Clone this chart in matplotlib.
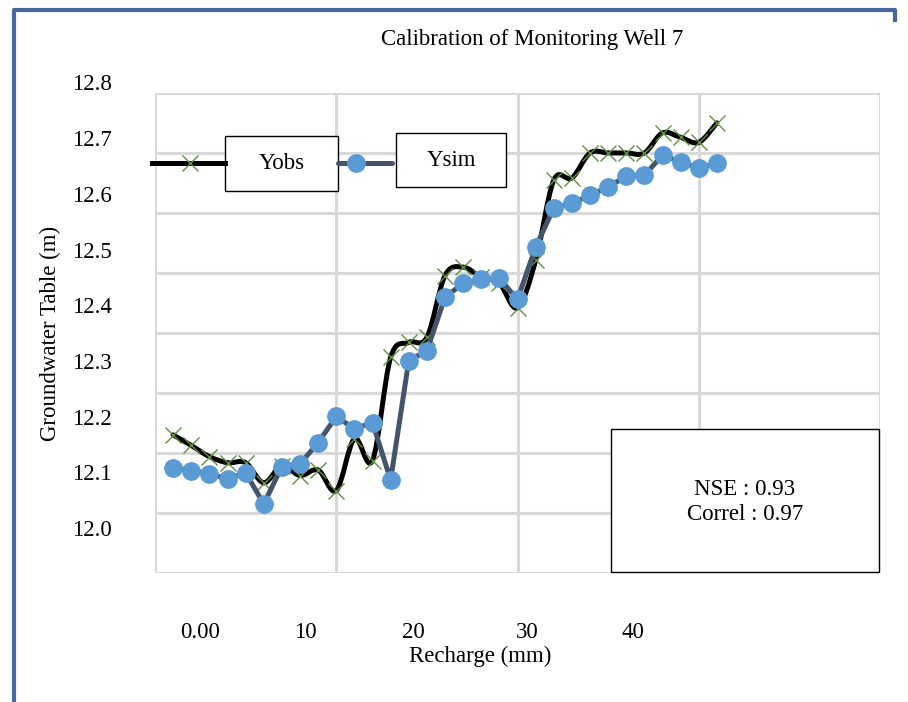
import matplotlib.pyplot as plt
import matplotlib.transforms as mtransforms
from matplotlib.path import Path
from matplotlib.patches import PathPatch, Rectangle
from matplotlib.lines import Line2D
import numpy as np

# --- Data ---
step = list(range(1, 32))
y_obs = [12.172, 12.153, 12.133, 12.122, 12.122, 12.086, 12.117, 12.099, 12.109, 12.072,
         12.165, 12.126, 12.311, 12.338, 12.347, 12.458, 12.473, 12.455, 12.444, 12.400,
         12.485, 12.629, 12.633, 12.678, 12.678, 12.678, 12.678, 12.714, 12.706, 12.697,
         12.732]
y_sim = [12.113, 12.108, 12.102, 12.093, 12.104, 12.048, 12.115, 12.120, 12.158, 12.205,
         12.183, 12.194, 12.091, 12.305, 12.323, 12.419, 12.444, 12.451, 12.453, 12.415,
         12.509, 12.579, 12.588, 12.602, 12.617, 12.636, 12.638, 12.674, 12.662, 12.651,
         12.660]
y_tick_values = [12.8, 12.7, 12.6, 12.5, 12.4, 12.3, 12.2, 12.1, 12.0]
x_tick_labels = ["0.00", "10", "20", "30", "40"]
series_names = ["Yobs", "Ysim"]
stats_text = "NSE : 0.93\nCorrel : 0.97"

plt.rcParams['font.family'] = ['Liberation Serif', 'DejaVu Serif']
FS = 16.5
W, H = 908, 702


def px(x, y):
    # pixel position (from top-left) -> figure fraction
    return x / W, 1 - y / H


fig = plt.figure(figsize=(W / 100, H / 100), dpi=100)
l, b = px(155, 573)
r, t = px(880, 93)
ax = fig.add_axes([l, b, r - l, t - b])

# axis ranges (the value labels are pasted text, not aligned with the grid)
ylo, yhi = 11.9241, 12.7856
ax.set_xlim(0, 40)
ax.set_ylim(ylo, yhi)
ax.set_xticks(np.arange(0, 41, 10))
ax.set_yticks(np.linspace(ylo, yhi, 9))
ax.tick_params(length=0, labelbottom=False, labelleft=False)
ax.grid(True, color='#d9d9d9', linewidth=2.2)
for s in ax.spines.values():
    s.set_visible(False)
ax.set_axisbelow(True)

# Yobs: smoothed line (Bezier through points), X markers
pts = np.column_stack([step, y_obs])
verts = [pts[0]]
codes = [Path.MOVETO]
n = len(pts)
for i in range(n - 1):
    p_prev = pts[max(i - 1, 0)]
    p0, p1 = pts[i], pts[i + 1]
    p_next = pts[min(i + 2, n - 1)]
    c1 = p0 + (p1 - p_prev) / 6
    c2 = p1 - (p_next - p0) / 6
    verts += [c1, c2, p1]
    codes += [Path.CURVE4] * 3
ax.add_patch(PathPatch(Path(verts, codes), facecolor='none', edgecolor='black',
                       linewidth=3.6, capstyle='round', joinstyle='round', zorder=3))
ax.plot(step, y_obs, linestyle='none', marker='x', color='#5f9142',
        markersize=11, markeredgewidth=1.0, zorder=4)

# Ysim: straight line with blue circles
ax.plot(step, y_sim, color='#44546a', linewidth=3.6, marker='o', markersize=12.5,
        markerfacecolor='#5b9bd5', markeredgecolor='#5b9bd5', zorder=5)

# y value labels as text boxes
trans = mtransforms.blended_transform_factory(fig.transFigure, ax.transData)
for v in y_tick_values:
    ax.text(92 / W, v, f"{v:.1f}", transform=trans, ha='center', va='center',
            fontsize=FS, clip_on=False)

# x labels
for xp, lab in zip([200, 305, 413, 527, 633], x_tick_labels):
    fig.text(*px(xp, 633), lab, ha='center', va='center', fontsize=FS)
fig.text(*px(480, 656), "Recharge (mm)", ha='center', va='center', fontsize=FS)
fig.text(*px(50, 333), "Groundwater Table (m)", ha='center', va='center',
         rotation=90, fontsize=FS)
fig.text(*px(532, 40), "Calibration of Monitoring Well 7", ha='center', va='center',
         fontsize=FS)

# legend drawn by hand (line + marker + boxed label)
fig.add_artist(Line2D([152 / W, 225 / W], [1 - 163 / H] * 2, color='black',
                      linewidth=3.6, transform=fig.transFigure))
fig.add_artist(Line2D([190 / W], [1 - 163 / H], linestyle='none', marker='x',
                      color='#5f9142', markersize=11, markeredgewidth=1.0,
                      transform=fig.transFigure))
fig.add_artist(Line2D([338 / W, 392 / W], [1 - 163 / H] * 2, color='#44546a',
                      linewidth=3.6, solid_capstyle='round', transform=fig.transFigure))
fig.add_artist(Line2D([356 / W], [1 - 163 / H], linestyle='none', marker='o',
                      markersize=12.5, color='#5b9bd5', transform=fig.transFigure))
for (x0, y0, x1, y1), name in zip([(225, 136, 338, 191), (396, 133, 506, 187)], series_names):
    fig.add_artist(Rectangle(px(x0, y1), (x1 - x0) / W, (y1 - y0) / H, facecolor='white',
                             edgecolor='black', linewidth=1.0, transform=fig.transFigure))
    fig.text(*px((x0 + x1) / 2, (y0 + y1) / 2), name, ha='center', va='center', fontsize=FS)

# stats box
fig.add_artist(Rectangle(px(611, 572), 268 / W, 143 / H, facecolor='white',
                         edgecolor='black', linewidth=1.0, transform=fig.transFigure))
fig.text(*px(745, 502), stats_text, ha='center', va='center', fontsize=FS, linespacing=1.3)

# outer blue frame
fig.add_artist(Line2D([14 / W, 14 / W, 895 / W, 895 / W],
                      [0, 1 - 10 / H, 1 - 10 / H, 1 - 20 / H],
                      color='#48679a', linewidth=3, transform=fig.transFigure))

fig.savefig('out.png', dpi=100)
